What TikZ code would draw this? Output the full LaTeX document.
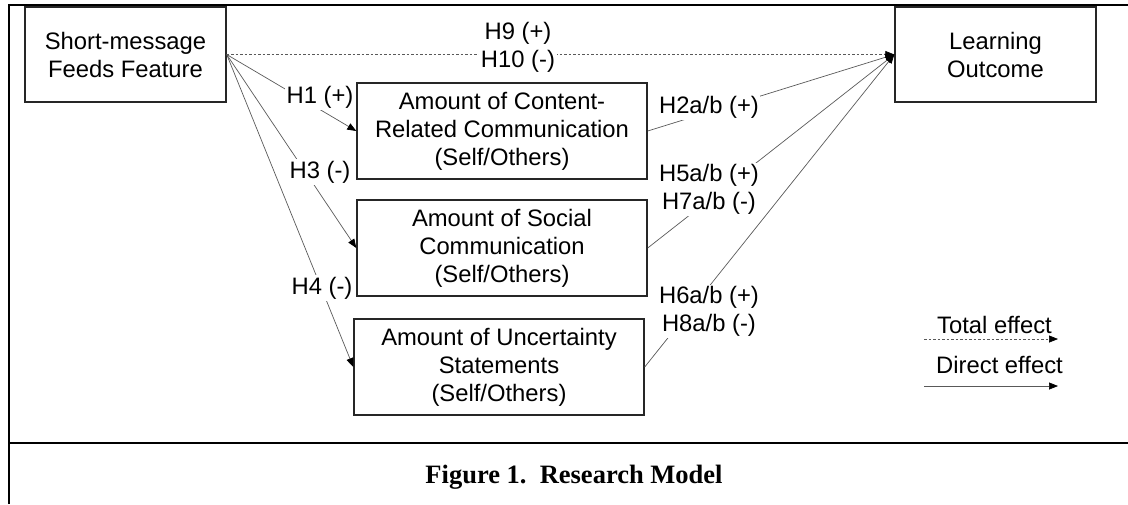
\documentclass[tikz,border=0pt]{standalone}
\usepackage{fontspec}
\setmainfont{Liberation Sans}
\newfontfamily\capfont{Liberation Serif}
\usetikzlibrary{arrows.meta}
\begin{document}
\begin{tikzpicture}[x=1pt,y=-1pt,
  box/.style={draw=black!85,line width=1.4pt,rectangle,align=center,inner sep=0pt,
    font=\fontsize{23.8}{28}\selectfont},
  lbl/.style={fill=white,inner sep=1.5pt,align=center,font=\fontsize{23.8}{27.5}\selectfont},
  conn/.style={draw=black!65,line width=0.7pt,-{Triangle[length=9pt,width=7pt,color=black]}},
  dconn/.style={conn,dash pattern=on 2.5pt off 2pt},
  frame/.style={line width=2.8pt,black}]
\useasboundingbox (0,0) rectangle (1128,504);
% frame
\coordinate (fTL) at (9,5);
\coordinate (fTR) at (1128,5);
\coordinate (fBL) at (9,504);
\coordinate (fML) at (9,443);
\coordinate (fMR) at (1128,443);
\draw[frame] (fBL) -- (fTL) -- (fTR);
\draw[frame] (fML) -- (fMR);
% boxes
\node[box,minimum width=201pt,minimum height=95pt] (sm) at (125.5,54.5) {Short-message\\Feeds Feature};
\node[box,minimum width=201pt,minimum height=95pt] (lo) at (995.5,54.5) {Learning\\Outcome};
\node[box,minimum width=290pt,minimum height=96pt] (cc) at (502,131) {Amount of Content-\\Related Communication\\(Self/Others)};
\node[box,minimum width=290pt,minimum height=96pt] (sc) at (502,248) {Amount of Social\\Communication\\(Self/Others)};
\node[box,minimum width=290pt,minimum height=96pt] (un) at (499,367) {Amount of Uncertainty\\Statements\\(Self/Others)};
% connectors
\draw[dconn] (sm.east) -- (lo.west);
\draw[conn] (sm.east) -- (cc.west);
\draw[conn] (sm.east) -- (sc.west);
\draw[conn] (sm.east) -- (un.west);
\draw[conn] (cc.east) -- (lo.west);
\draw[conn] (sc.east) -- (lo.west);
\draw[conn] (un.east) -- (lo.west);
% labels
\node[lbl] (l910) at (518,47.5) {H9 (+)\\H10 (-)};
\node[lbl] (l1) at (320,97) {H1 (+)};
\node[lbl] (l3) at (320,172) {H3 (-)};
\node[lbl] (l4) at (322,288) {H4 (-)};
\node[lbl] (l2) at (709,107) {H2a/b (+)};
\node[lbl] (l57) at (709,189.5) {H5a/b (+)\\H7a/b (-)};
\node[lbl] (l68) at (709,311.5) {H6a/b (+)\\H8a/b (-)};
% legend
\node[lbl] (tot) at (994.5,325) {Total effect};
\node[lbl] (dir) at (999.5,365) {Direct effect};
\coordinate (t1) at (924,339);
\coordinate (t2) at (1058,339);
\coordinate (d1) at (924,386);
\coordinate (d2) at (1058,386);
\draw[dconn] (t1) -- (t2);
\draw[conn] (d1) -- (d2);
% caption
\node[font=\capfont\bfseries\fontsize{26.5}{30}\selectfont] (cap) at (574,477) {Figure 1.\ \ Research Model};
\end{tikzpicture}
\end{document}
